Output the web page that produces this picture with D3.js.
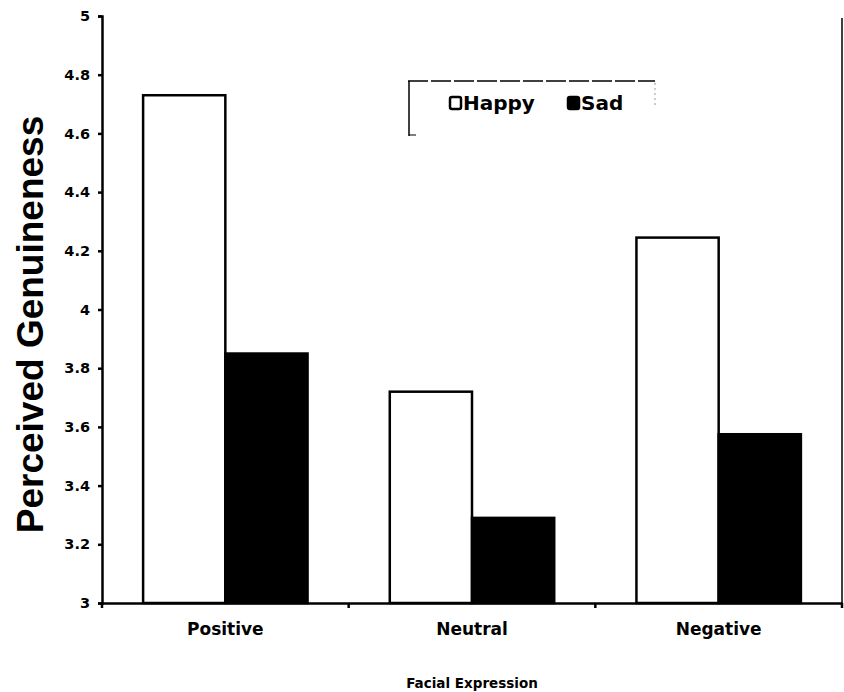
<!DOCTYPE html>
<html><head><meta charset="utf-8">
<script src="https://cdn.jsdelivr.net/npm/d3@7"></script>
<style>body{margin:0;background:#fff;} text{font-family:"DejaVu Sans",Arial,sans-serif;font-weight:bold;fill:#000;}</style>
</head><body>
<svg id="c" width="844" height="692"></svg>
<script>
const categories = ["Positive", "Neutral", "Negative"];
const series = ["Happy", "Sad"];
const happyValues = [4.73, 3.72, 4.245];
const sadValues = [3.85, 3.29, 3.575];
const yTicks = [3, 3.2, 3.4, 3.6, 3.8, 4, 4.2, 4.4, 4.6, 4.8, 5];
const fills = {Happy: "#fff", Sad: "#000"};

const svg = d3.select("#c");
const L = 102, R = 842, T = 16, B = 603;
const x = d3.scaleBand().domain(categories).range([L, R]).padding(0);
const xs = d3.scaleBand().domain(series).range([0, x.bandwidth()]).paddingInner(0).paddingOuter(0.5);
const y = d3.scaleLinear().domain([3, 5]).range([B, T]);

const data = [];
categories.forEach((c, i) => {
  data.push({c, s: "Happy", v: happyValues[i]});
  data.push({c, s: "Sad", v: sadValues[i]});
});

svg.selectAll("rect.bar").data(data).enter().append("rect")
  .attr("class", "bar")
  .attr("x", d => x(d.c) + xs(d.s))
  .attr("y", d => y(d.v))
  .attr("width", xs.bandwidth())
  .attr("height", d => B - y(d.v))
  .attr("fill", d => fills[d.s])
  .attr("stroke", "#000").attr("stroke-width", 2.5);

// y axis
const yAxis = svg.append("g").attr("transform", `translate(${L},0)`)
  .call(d3.axisLeft(y).tickValues(yTicks).tickSize(4).tickPadding(8).tickFormat(d => d3.format("")(+d.toFixed(1))));
yAxis.select(".domain").attr("stroke-width", 2.5);
yAxis.selectAll(".tick line").attr("stroke-width", 2.5);
yAxis.selectAll("text").style("font-size", "14.5px").style("font-weight", "bold")
  .style("font-family", "'DejaVu Sans'").attr("fill", "#000");

// x axis
const xAxis = svg.append("g").attr("transform", `translate(0,${B})`)
  .call(d3.axisBottom(x).tickSize(0).tickPadding(20));
xAxis.select(".domain").attr("stroke-width", 2.5);
xAxis.selectAll("text").style("font-size", "17px").style("font-weight", "bold")
  .style("font-family", "'DejaVu Sans'").attr("fill", "#000");
// boundary ticks
const bounds = categories.map(c => x(c)).concat([R]);
svg.selectAll("line.bt").data(bounds).enter().append("line")
  .attr("x1", d => d).attr("x2", d => d).attr("y1", B).attr("y2", B + 5)
  .attr("stroke", "#000").attr("stroke-width", 2.5);

// right border
svg.append("line").attr("x1", R).attr("x2", R).attr("y1", T + 2).attr("y2", B)
  .attr("stroke", "#000").attr("stroke-width", 1.5);

// axis titles
svg.append("text").attr("transform", `translate(43,${(T + B) / 2 + 15}) rotate(-90)`)
  .attr("text-anchor", "middle").style("font-family", "'Liberation Sans'")
  .style("font-size", "37px").text("Perceived Genuineness");
svg.append("text").attr("x", 472).attr("y", 688).attr("text-anchor", "middle")
  .style("font-size", "13.5px").text("Facial Expression");

// legend
const lg = svg.append("g");
lg.append("line").attr("x1", 408).attr("x2", 655).attr("y1", 81).attr("y2", 81)
  .attr("stroke", "#000").attr("stroke-width", 1.5).attr("stroke-dasharray", "20,3");
lg.append("line").attr("x1", 409).attr("x2", 409).attr("y1", 81).attr("y2", 136)
  .attr("stroke", "#000").attr("stroke-width", 1.5);
lg.append("line").attr("x1", 409).attr("x2", 416).attr("y1", 135).attr("y2", 135)
  .attr("stroke", "#000").attr("stroke-width", 1);
lg.append("line").attr("x1", 655).attr("x2", 655).attr("y1", 83).attr("y2", 106)
  .attr("stroke", "#999").attr("stroke-width", 1).attr("stroke-dasharray", "2,3");
const lx = [450, 568];
series.forEach((s, i) => {
  lg.append("rect").attr("x", lx[i]).attr("y", 97).attr("width", 11).attr("height", 12)
    .attr("fill", fills[s]).attr("stroke", "#000").attr("stroke-width", 2.5).attr("rx", 2);
  lg.append("text").attr("x", lx[i] + 13).attr("y", 110).style("font-size", "20px").text(s);
});
</script>
</body></html>
